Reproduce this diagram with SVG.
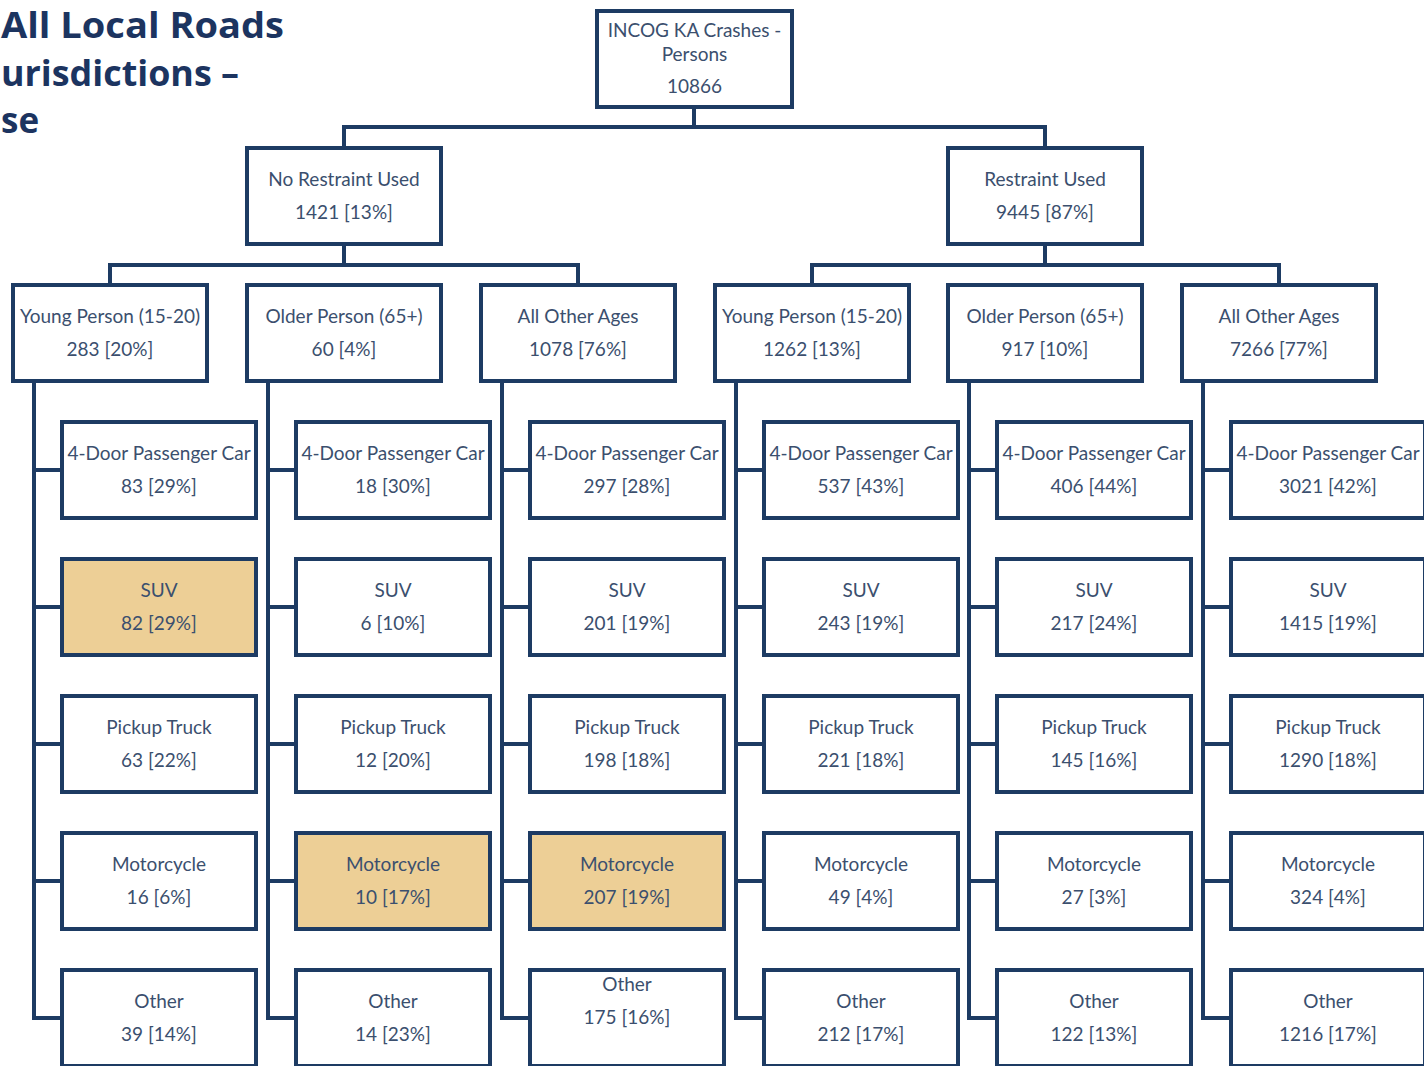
<svg xmlns="http://www.w3.org/2000/svg" width="1424" height="1066" viewBox="0 0 1424 1066">
<style>
.bx{fill:#ffffff;stroke:#1d3b63;stroke-width:4}
.hl{fill:#edcf96}
.t{font-family:Lato,"Open Sans",sans-serif;font-size:19px;fill:#3b4f6e;text-anchor:middle}
.c{fill:none;stroke:#1d3b63;stroke-width:4}
.ttl{font-family:"Open Sans",Lato,sans-serif;font-weight:700;font-size:35px;fill:#1c3460}
</style>
<rect width="1424" height="1066" fill="#ffffff"/>
<g id="title">
<text class="ttl" x="1" y="38" textLength="283" lengthAdjust="spacingAndGlyphs">All Local Roads</text>
<text class="ttl" x="1" y="86" textLength="238" lengthAdjust="spacingAndGlyphs">urisdictions –</text>
<text class="ttl" x="1" y="133">se</text>
</g>
<g id="connectors">
<path class="c" d="M694 107V127M344 148V127H1045V148"/>
<path class="c" d="M344 244V265M110 285V265H578V285M1045 244V265M812 285V265H1279V285"/>
<path class="c" d="M34 381V1018H62M34 470H62M34 607H62M34 744H62M34 881H62"/>
<path class="c" d="M268 381V1018H296M268 470H296M268 607H296M268 744H296M268 881H296"/>
<path class="c" d="M502 381V1018H530M502 470H530M502 607H530M502 744H530M502 881H530"/>
<path class="c" d="M736 381V1018H764M736 470H764M736 607H764M736 744H764M736 881H764"/>
<path class="c" d="M969 381V1018H997M969 470H997M969 607H997M969 744H997M969 881H997"/>
<path class="c" d="M1203 381V1018H1231M1203 470H1231M1203 607H1231M1203 744H1231M1203 881H1231"/>
</g>
<g id="root"><rect class="bx" x="597" y="11" width="195" height="96"/><text class="t" x="694.5" y="37">INCOG KA Crashes -</text><text class="t" x="694.5" y="61">Persons</text><text class="t" x="694.5" y="93">10866</text></g>
<g id="no-restraint"><rect class="bx" x="247" y="148" width="194" height="96"/><text class="t" x="344" y="186">No Restraint Used</text><text class="t" x="344" y="219">1421 [13%]</text></g>
<g id="restraint"><rect class="bx" x="948" y="148" width="194" height="96"/><text class="t" x="1045" y="186">Restraint Used</text><text class="t" x="1045" y="219">9445 [87%]</text></g>
<g id="nr-young"><rect class="bx" x="13" y="285" width="194" height="96"/><text class="t" x="110" y="323">Young Person (15-20)</text><text class="t" x="110" y="356">283 [20%]</text></g>
<g id="nr-older"><rect class="bx" x="247" y="285" width="194" height="96"/><text class="t" x="344" y="323">Older Person (65+)</text><text class="t" x="344" y="356">60 [4%]</text></g>
<g id="nr-other"><rect class="bx" x="481" y="285" width="194" height="96"/><text class="t" x="578" y="323">All Other Ages</text><text class="t" x="578" y="356">1078 [76%]</text></g>
<g id="r-young"><rect class="bx" x="715" y="285" width="194" height="96"/><text class="t" x="812" y="323">Young Person (15-20)</text><text class="t" x="812" y="356">1262 [13%]</text></g>
<g id="r-older"><rect class="bx" x="948" y="285" width="194" height="96"/><text class="t" x="1045" y="323">Older Person (65+)</text><text class="t" x="1045" y="356">917 [10%]</text></g>
<g id="r-other"><rect class="bx" x="1182" y="285" width="194" height="96"/><text class="t" x="1279" y="323">All Other Ages</text><text class="t" x="1279" y="356">7266 [77%]</text></g>

<g id="c1-car"><rect class="bx" x="62" y="422" width="194" height="96"/><text class="t" x="159" y="460">4-Door Passenger Car</text><text class="t" x="159" y="493">83 [29%]</text></g>
<g id="c1-suv"><rect class="bx hl" x="62" y="559" width="194" height="96"/><text class="t" x="159" y="597">SUV</text><text class="t" x="159" y="630">82 [29%]</text></g>
<g id="c1-pickup"><rect class="bx" x="62" y="696" width="194" height="96"/><text class="t" x="159" y="734">Pickup Truck</text><text class="t" x="159" y="767">63 [22%]</text></g>
<g id="c1-moto"><rect class="bx" x="62" y="833" width="194" height="96"/><text class="t" x="159" y="871">Motorcycle</text><text class="t" x="159" y="904">16 [6%]</text></g>
<g id="c1-other"><rect class="bx" x="62" y="970" width="194" height="96"/><text class="t" x="159" y="1008">Other</text><text class="t" x="159" y="1041">39 [14%]</text></g>

<g id="c2-car"><rect class="bx" x="296" y="422" width="194" height="96"/><text class="t" x="393" y="460">4-Door Passenger Car</text><text class="t" x="393" y="493">18 [30%]</text></g>
<g id="c2-suv"><rect class="bx" x="296" y="559" width="194" height="96"/><text class="t" x="393" y="597">SUV</text><text class="t" x="393" y="630">6 [10%]</text></g>
<g id="c2-pickup"><rect class="bx" x="296" y="696" width="194" height="96"/><text class="t" x="393" y="734">Pickup Truck</text><text class="t" x="393" y="767">12 [20%]</text></g>
<g id="c2-moto"><rect class="bx hl" x="296" y="833" width="194" height="96"/><text class="t" x="393" y="871">Motorcycle</text><text class="t" x="393" y="904">10 [17%]</text></g>
<g id="c2-other"><rect class="bx" x="296" y="970" width="194" height="96"/><text class="t" x="393" y="1008">Other</text><text class="t" x="393" y="1041">14 [23%]</text></g>

<g id="c3-car"><rect class="bx" x="530" y="422" width="194" height="96"/><text class="t" x="627" y="460">4-Door Passenger Car</text><text class="t" x="627" y="493">297 [28%]</text></g>
<g id="c3-suv"><rect class="bx" x="530" y="559" width="194" height="96"/><text class="t" x="627" y="597">SUV</text><text class="t" x="627" y="630">201 [19%]</text></g>
<g id="c3-pickup"><rect class="bx" x="530" y="696" width="194" height="96"/><text class="t" x="627" y="734">Pickup Truck</text><text class="t" x="627" y="767">198 [18%]</text></g>
<g id="c3-moto"><rect class="bx hl" x="530" y="833" width="194" height="96"/><text class="t" x="627" y="871">Motorcycle</text><text class="t" x="627" y="904">207 [19%]</text></g>
<g id="c3-other"><rect class="bx" x="530" y="970" width="194" height="96"/><text class="t" x="627" y="991">Other</text><text class="t" x="627" y="1024">175 [16%]</text></g>

<g id="c4-car"><rect class="bx" x="764" y="422" width="194" height="96"/><text class="t" x="861" y="460">4-Door Passenger Car</text><text class="t" x="861" y="493">537 [43%]</text></g>
<g id="c4-suv"><rect class="bx" x="764" y="559" width="194" height="96"/><text class="t" x="861" y="597">SUV</text><text class="t" x="861" y="630">243 [19%]</text></g>
<g id="c4-pickup"><rect class="bx" x="764" y="696" width="194" height="96"/><text class="t" x="861" y="734">Pickup Truck</text><text class="t" x="861" y="767">221 [18%]</text></g>
<g id="c4-moto"><rect class="bx" x="764" y="833" width="194" height="96"/><text class="t" x="861" y="871">Motorcycle</text><text class="t" x="861" y="904">49 [4%]</text></g>
<g id="c4-other"><rect class="bx" x="764" y="970" width="194" height="96"/><text class="t" x="861" y="1008">Other</text><text class="t" x="861" y="1041">212 [17%]</text></g>

<g id="c5-car"><rect class="bx" x="997" y="422" width="194" height="96"/><text class="t" x="1094" y="460">4-Door Passenger Car</text><text class="t" x="1094" y="493">406 [44%]</text></g>
<g id="c5-suv"><rect class="bx" x="997" y="559" width="194" height="96"/><text class="t" x="1094" y="597">SUV</text><text class="t" x="1094" y="630">217 [24%]</text></g>
<g id="c5-pickup"><rect class="bx" x="997" y="696" width="194" height="96"/><text class="t" x="1094" y="734">Pickup Truck</text><text class="t" x="1094" y="767">145 [16%]</text></g>
<g id="c5-moto"><rect class="bx" x="997" y="833" width="194" height="96"/><text class="t" x="1094" y="871">Motorcycle</text><text class="t" x="1094" y="904">27 [3%]</text></g>
<g id="c5-other"><rect class="bx" x="997" y="970" width="194" height="96"/><text class="t" x="1094" y="1008">Other</text><text class="t" x="1094" y="1041">122 [13%]</text></g>

<g id="c6-car"><rect class="bx" x="1231" y="422" width="194" height="96"/><text class="t" x="1328" y="460">4-Door Passenger Car</text><text class="t" x="1328" y="493">3021 [42%]</text></g>
<g id="c6-suv"><rect class="bx" x="1231" y="559" width="194" height="96"/><text class="t" x="1328" y="597">SUV</text><text class="t" x="1328" y="630">1415 [19%]</text></g>
<g id="c6-pickup"><rect class="bx" x="1231" y="696" width="194" height="96"/><text class="t" x="1328" y="734">Pickup Truck</text><text class="t" x="1328" y="767">1290 [18%]</text></g>
<g id="c6-moto"><rect class="bx" x="1231" y="833" width="194" height="96"/><text class="t" x="1328" y="871">Motorcycle</text><text class="t" x="1328" y="904">324 [4%]</text></g>
<g id="c6-other"><rect class="bx" x="1231" y="970" width="194" height="96"/><text class="t" x="1328" y="1008">Other</text><text class="t" x="1328" y="1041">1216 [17%]</text></g>
</svg>
